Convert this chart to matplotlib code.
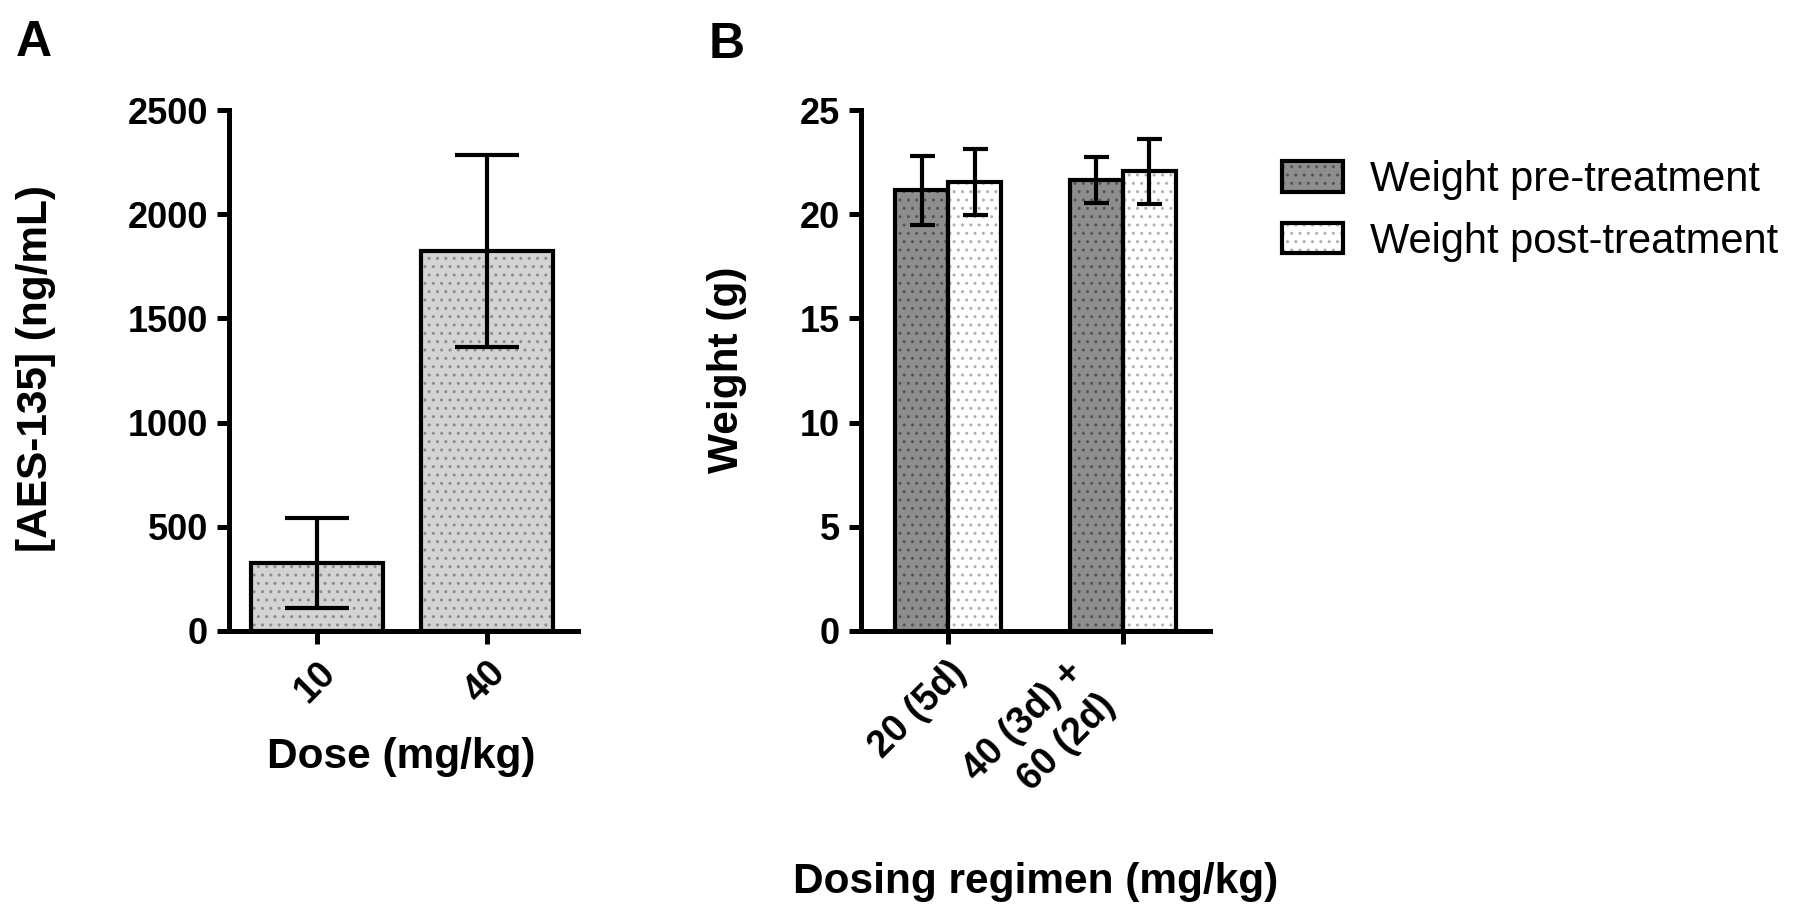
import matplotlib
matplotlib.use("Agg")
from matplotlib import pyplot as plt

plt.rcParams['font.family'] = ['Liberation Sans', 'DejaVu Sans']
plt.rcParams['hatch.linewidth'] = 1.0

# Panel A data
doses = ["10", "40"]
conc_mean = [325, 1825]
conc_sd = [215, 460]

# Panel B data
regimens = ["20 (5d)", "40 (3d) +\n60 (2d)"]
weight_pre = [21.15, 21.65]
weight_pre_sd = [1.65, 1.1]
weight_post = [21.55, 22.05]
weight_post_sd = [1.6, 1.55]
legend_labels = ["Weight pre-treatment", "Weight post-treatment"]

W, H = 1800, 921
fig = plt.figure(figsize=(18, 9.21), dpi=100)

lw_axis = 3.6
lw_bar = 3.0
lw_err = 3.0


def style_axes(ax):
    for s in ['top', 'right']:
        ax.spines[s].set_visible(False)
    for s in ['left', 'bottom']:
        ax.spines[s].set_linewidth(lw_axis)
    ax.tick_params(axis='y', width=lw_axis, length=9, labelsize=26, pad=6)
    ax.tick_params(axis='x', width=lw_axis, length=9, labelsize=27, pad=8)
    for lab in ax.get_yticklabels() + ax.get_xticklabels():
        lab.set_fontweight('bold')


def hatched_bar(ax, x, h, width, fill, dots):
    # fill + dots (hatch takes edgecolor), then black outline on top
    a = ax.bar(x, h, width, color=fill, edgecolor=dots, hatch='..', linewidth=0, zorder=2)
    b = ax.bar(x, h, width, facecolor='none', edgecolor='black', linewidth=lw_bar, zorder=3)
    return a, b


# ---------------- Panel A ----------------
axA = fig.add_axes([229 / W, 1 - 631 / H, 349 / W, 521 / H])
xa = list(range(len(doses)))
for i in xa:
    hatched_bar(axA, i, conc_mean[i], 0.776, '#d4d4d4', '#8c8c8c')
axA.errorbar(xa, conc_mean, yerr=conc_sd, fmt='none', ecolor='black',
             elinewidth=lw_err, capsize=23, capthick=lw_err, zorder=4)
axA.set_xlim(-0.518, 1.535)
axA.set_ylim(0, 2500)
axA.set_yticks([0, 500, 1000, 1500, 2000, 2500])
axA.set_xticks(xa)
axA.set_xticklabels(doses, rotation=45, ha='right', va='top', rotation_mode='anchor')
style_axes(axA)

# ---------------- Panel B ----------------
axB = fig.add_axes([861 / W, 1 - 631 / H, 349 / W, 521 / H])
xb = list(range(len(regimens)))
bw = 0.305
xpre = [x - bw / 2 for x in xb]
xpost = [x + bw / 2 for x in xb]
hp = hpo = None
for i in xb:
    p1 = hatched_bar(axB, xpre[i], weight_pre[i], bw, '#8e8e8e', '#555555')
    p2 = hatched_bar(axB, xpost[i], weight_post[i], bw, 'white', '#b0b0b0')
    if i == 0:
        hp, hpo = p1, p2
axB.errorbar(xpre, weight_pre, yerr=weight_pre_sd, fmt='none', ecolor='black',
             elinewidth=lw_err, capsize=9, capthick=lw_err, zorder=4)
axB.errorbar(xpost, weight_post, yerr=weight_post_sd, fmt='none', ecolor='black',
             elinewidth=lw_err, capsize=9, capthick=lw_err, zorder=4)
axB.set_xlim(-0.5, 1.5)
axB.set_ylim(0, 25)
axB.set_yticks([0, 5, 10, 15, 20, 25])
axB.set_xticks(xb)
axB.set_xticklabels(regimens, rotation=45, ha='right', multialignment='right',
                    linespacing=1.35)
axB.get_xticklabels()[0].set_rotation_mode('anchor')
style_axes(axB)

fig.legend([hp, hpo], legend_labels, loc='upper left',
           bbox_to_anchor=(1282 / W, 1 - 160 / H), frameon=False,
           fontsize=30, handlelength=1.46, handleheight=0.74,
           labelspacing=0.52, handletextpad=0.65, borderpad=0, borderaxespad=0)

# axis titles and panel letters
fig.text(36 / W, 1 - 369 / H, "[AES-135] (ng/mL)", rotation=90, ha='center',
         va='center', fontsize=30.5, fontweight='bold')
fig.text(727 / W, 1 - 370 / H, "Weight (g)", rotation=90, ha='center',
         va='center', fontsize=30.5, fontweight='bold')
fig.text(401 / W, 1 - 768 / H, "Dose (mg/kg)", ha='center', va='baseline',
         fontsize=30.5, fontweight='bold')
fig.text(1036 / W, 1 - 893 / H, "Dosing regimen (mg/kg)", ha='center', va='baseline',
         fontsize=30.5, fontweight='bold')
fig.text(16 / W, 1 - 56 / H, "A", ha='left', va='baseline', fontsize=36, fontweight='bold')
fig.text(709 / W, 1 - 58 / H, "B", ha='left', va='baseline', fontsize=36, fontweight='bold')

plt.savefig("out.png", dpi=100)
plt.close()
